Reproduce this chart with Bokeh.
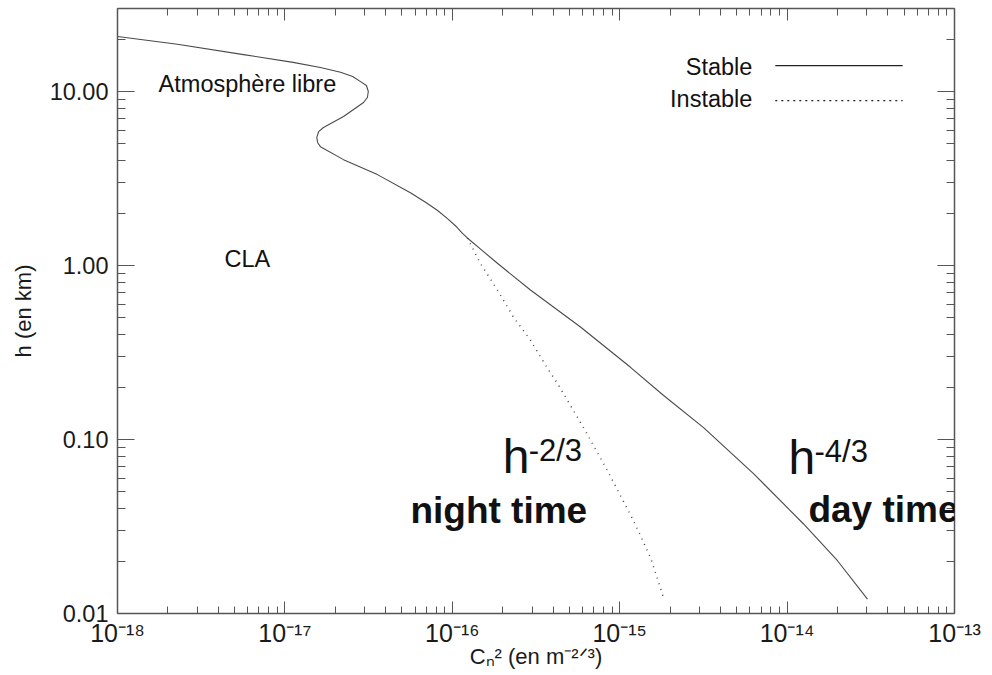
from bokeh.plotting import figure
from bokeh.models import Range1d, LogAxis, FixedTicker, Label, Arrow
from bokeh.embed import file_html
from bokeh.resources import INLINE

# ---------------- data ----------------
# Stable profile: Cn2 (m^-2/3) vs altitude h (km)
stable_cn2 = [1.00e-18, 2.28e-18, 5.66e-18, 1.12e-17, 1.63e-17, 2.15e-17, 2.54e-17, 2.83e-17,
              3.07e-17, 3.15e-17, 3.11e-17, 2.95e-17, 2.24e-17, 1.70e-17, 1.59e-17, 1.55e-17,
              1.57e-17, 1.63e-17, 2.24e-17, 3.57e-17, 5.62e-17, 6.92e-17, 8.17e-17, 9.36e-17,
              1.06e-16, 1.15e-16, 1.23e-16, 1.47e-16, 1.86e-16, 2.93e-16, 5.83e-16, 1.16e-15,
              1.83e-15, 3.17e-15, 6.30e-15, 1.25e-14, 2.00e-14, 3.02e-14]
stable_h = [20.7, 18.7, 16.3, 14.7, 13.75, 12.9, 12.2, 11.4,
            10.83, 10.0, 9.24, 8.65, 7.18, 6.21, 5.88, 5.43,
            5.08, 4.82, 4.06, 3.33, 2.62, 2.31, 2.07, 1.86,
            1.67, 1.53, 1.44, 1.245, 1.03, 0.723, 0.443, 0.260,
            0.179, 0.117, 0.0637, 0.0328, 0.0201, 0.0121]

# Unstable profile (boundary layer part)
unstable_cn2 = [1.23e-16, 1.47e-16, 1.86e-16, 2.32e-16, 2.93e-16, 3.71e-16,
                4.25e-16, 6.08e-16, 8.45e-16, 1.21e-15, 1.53e-15, 1.83e-15]
unstable_h = [1.44, 1.03, 0.723, 0.505, 0.372, 0.256,
              0.210, 0.117, 0.0662, 0.0341, 0.0209, 0.0123]

x_major = [1e-18, 1e-17, 1e-16, 1e-15, 1e-14, 1e-13]
x_labels = ["10\u207b\u00b9\u2078", "10\u207b\u00b9\u2077", "10\u207b\u00b9\u2076",
            "10\u207b\u00b9\u2075", "10\u207b\u00b9\u2074", "10\u207b\u00b9\u00b3"]
y_major = [0.01, 0.1, 1.0, 10.0]
y_labels = ["0.01", "0.10", "1.00", "10.00"]
minor_mult = [2, 3, 4, 5, 6, 7, 8, 9]

FONT = "Liberation Sans"
INK = "#1a1a1a"
AX = "#555555"
CURVE = "#4a4a4a"

x_minor = [m * d for d in x_major[:-1] for m in minor_mult]
y_minor = [m * d for d in y_major for m in minor_mult if m * d <= 30]

p = figure(width=992, height=675, x_axis_type="log", y_axis_type="log",
           x_range=Range1d(1e-18, 1e-13), y_range=Range1d(0.01, 30),
           output_backend="svg", toolbar_location=None,
           min_border_left=117, min_border_right=38, min_border_top=8, min_border_bottom=62,
           background_fill_color="white", border_fill_color="white")
p.grid.visible = False
p.outline_line_color = None

def style(ax, tin, mtin, size):
    ax.axis_line_color = AX
    ax.axis_line_width = 1.5
    ax.major_tick_in = tin
    ax.major_tick_out = 0
    ax.minor_tick_in = mtin
    ax.minor_tick_out = 0
    ax.major_tick_line_color = AX
    ax.minor_tick_line_color = AX
    ax.major_label_text_font = FONT
    ax.major_label_text_font_size = size
    ax.major_label_text_color = INK

xa = p.xaxis[0]
xa.ticker = FixedTicker(ticks=x_major, minor_ticks=x_minor)
style(xa, 12, 7, "25px")
xa.major_label_overrides = {v: s for v, s in zip(x_major, x_labels)}
xa.major_label_standoff = 5
xa.axis_label = "C\u2099\u00b2 (en m\u207b\u00b2\u141f\u00b3)"
xa.axis_label_text_font = FONT
xa.axis_label_text_font_size = "22px"
xa.axis_label_text_font_style = "normal"
xa.axis_label_text_color = INK
xa.axis_label_standoff = -6

ya = p.yaxis[0]
ya.ticker = FixedTicker(ticks=y_major, minor_ticks=y_minor)
style(ya, 17, 8, "23.5px")
ya.major_label_overrides = {v: s for v, s in zip(y_major, y_labels)}
ya.major_label_standoff = 9
ya.axis_label = "h (en km)"
ya.axis_label_text_font = FONT
ya.axis_label_text_font_size = "22px"
ya.axis_label_text_font_style = "normal"
ya.axis_label_text_color = INK
ya.axis_label_standoff = 11

top = LogAxis(ticker=FixedTicker(ticks=x_major, minor_ticks=x_minor))
style(top, 12, 7, "1px")
top.major_label_text_color = None
top.major_label_standoff = 0
p.add_layout(top, "above")

right = LogAxis(ticker=FixedTicker(ticks=y_major, minor_ticks=y_minor))
style(right, 17, 8, "1px")
right.major_label_text_color = None
right.major_label_standoff = 0
p.add_layout(right, "right")

# curves
p.line(stable_cn2, stable_h, line_color=CURVE, line_width=1.1, line_join="round")
p.line(unstable_cn2, unstable_h, line_color=CURVE, line_width=1.5, line_dash="1 5")

def lab(x, y, text, size=23.5, align="left", style_="normal", xo=0, yo=0):
    # raise text so that (x, y) is its alphabetic baseline
    p.add_layout(Label(x=x, y=y, text=text, text_font=FONT, text_font_size=f"{size}px",
                       text_align=align, text_baseline="alphabetic",
                       text_font_style=style_, text_color="#111111",
                       x_offset=xo, y_offset=yo + round(0.34 * size)))

# legend (label left of sample line)
lab(6.2e-15, 12.4, "Stable", align="right")
lab(6.2e-15, 8.2, "Instable", align="right")
p.add_layout(Arrow(end=None, x_start=8.5e-15, y_start=14.1, x_end=4.9e-14, y_end=14.1,
                   line_color="#222222", line_width=1.2))
p.add_layout(Arrow(end=None, x_start=8.5e-15, y_start=8.87, x_end=4.9e-14, y_end=8.87,
                   line_color="#222222", line_width=1.2, line_dash="2 4"))

# annotations
lab(1.76e-18, 10.0, "Atmosphère libre")
lab(4.36e-18, 0.98, "CLA")

lab(2.0e-16, 0.0646, "h", size=48)
lab(2.0e-16, 0.0646, "-2/3", size=31, xo=26, yo=11)
lab(5.62e-17, 0.0328, "night time", size=37, style_="bold")

lab(1.02e-14, 0.0640, "h", size=48)
lab(1.02e-14, 0.0640, "-4/3", size=31, xo=26, yo=11)
lab(1.34e-14, 0.0333, "day time", size=37, style_="bold")

open("out.html", "w").write(file_html(p, INLINE))
